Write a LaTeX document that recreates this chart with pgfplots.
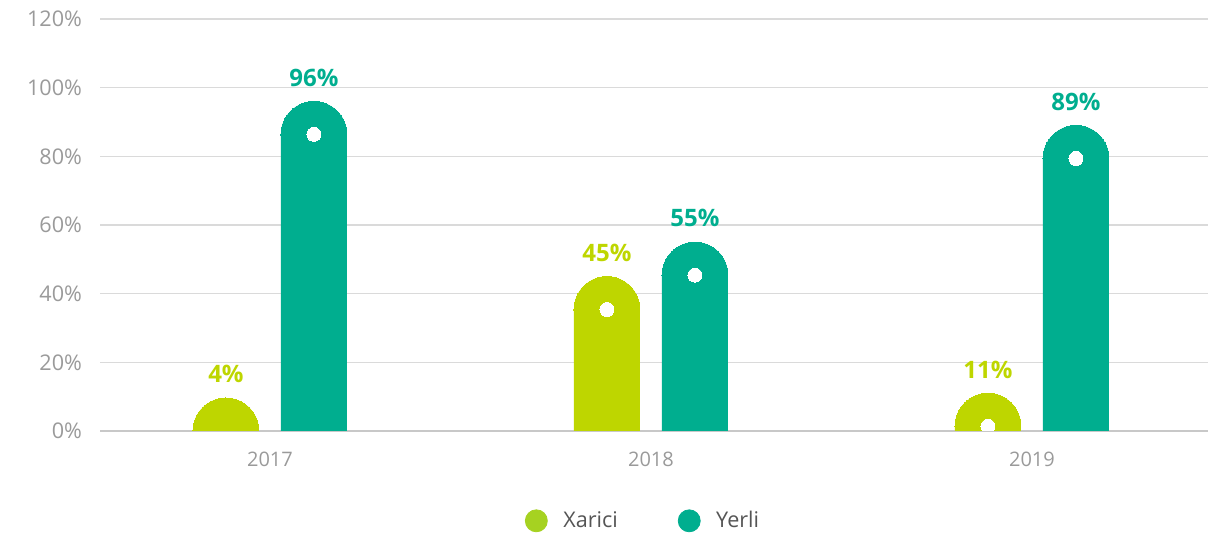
\documentclass[border=0pt]{standalone}
\usepackage{pgfplots}
\pgfplotsset{compat=1.18}
\usepackage{pgfplotstable}
\usepackage{fontspec}
\setmainfont{Open Sans}
\usetikzlibrary{calc}

\definecolor{xarici}{HTML}{BED600}
\definecolor{yerli}{HTML}{00AE8F}
\definecolor{gridc}{HTML}{DADADA}
\definecolor{basec}{HTML}{C8C8C8}
\definecolor{tickc}{HTML}{9A9A9A}
\definecolor{legc}{HTML}{555555}

% share of each group, in percent
\pgfplotstableread{
x v
0 4
1 45
2 11
}\xarici
\pgfplotstableread{
x v
0 96
1 55
2 89
}\yerli

% radius of the rounded bar top, in y units (16.5pt / (206pt/120))
\newcommand{\rr}{9.61}

\begin{document}
\begin{tikzpicture}
\begin{axis}[
  name=ax,
  scale only axis,
  width=554pt, height=206pt,
  xmin=-0.446, xmax=2.462,
  ymin=0, ymax=120,
  ytick={0,20,...,120},
  yticklabel={\pgfmathprintnumber{\tick}\%},
  xtick={0,1,2},
  xticklabels={2017,2018,2019},
  /pgf/number format/assume math mode=true,
  axis lines=left,
  y axis line style={draw=none},
  x axis line style={draw=basec, -, line width=0.7pt},
  major tick length=0pt,
  ymajorgrids,
  grid style={gridc, line width=0.6pt},
  tick label style={font=\fontsize{10}{12}\selectfont, text=tickc},
  yticklabel style={xshift=-5.5pt, font=\fontsize{10.8}{12}\selectfont},
  xticklabel style={yshift=-7pt},
  clip marker paths=true,
  legend columns=2,
  legend style={draw=none, at={(0.491,-0.218)}, anchor=center,
    font=\fontsize{10.8}{12}\selectfont, text=legc,
    /tikz/every even column/.append style={column sep=28pt}},
]
% Xarici
\addplot[ybar, bar width=33pt, bar shift=0pt, fill=xarici, draw=none, forget plot]
  table[x expr=\thisrow{x}-0.1155, y expr={max(\thisrow{v}-\rr,0)}] {\xarici};
\addplot[only marks, color=xarici, mark=*, mark size=16.5pt,
  mark options={fill=xarici, draw=xarici, line width=0pt},
  forget plot, point meta=explicit,
  nodes near coords={\pgfmathprintnumber{\pgfplotspointmeta}\%},
  every node near coord/.append style={anchor=south, inner sep=0pt, yshift=24pt,
    font=\fontsize{12}{14}\selectfont\bfseries, text=xarici}]
  table[x expr=\thisrow{x}-0.1155, y expr={max(\thisrow{v}-\rr,0)}, meta=v] {\xarici};
\addplot[only marks, color=white, mark=*, mark size=3.5pt,
  mark options={fill=white, draw=white, line width=0pt},
  forget plot, restrict y to domain=0.5:200]
  table[x expr=\thisrow{x}-0.1155, y expr={max(\thisrow{v}-\rr,0)}] {\xarici};
% Yerli
\addplot[ybar, bar width=33pt, bar shift=0pt, fill=yerli, draw=none, forget plot]
  table[x expr=\thisrow{x}+0.1155, y expr={max(\thisrow{v}-\rr,0)}] {\yerli};
\addplot[only marks, color=yerli, mark=*, mark size=16.5pt,
  mark options={fill=yerli, draw=yerli, line width=0pt},
  forget plot, point meta=explicit,
  nodes near coords={\pgfmathprintnumber{\pgfplotspointmeta}\%},
  every node near coord/.append style={anchor=south, inner sep=0pt, yshift=24pt,
    font=\fontsize{12}{14}\selectfont\bfseries, text=yerli}]
  table[x expr=\thisrow{x}+0.1155, y expr={max(\thisrow{v}-\rr,0)}, meta=v] {\yerli};
\addplot[only marks, color=white, mark=*, mark size=3.5pt,
  mark options={fill=white, draw=white, line width=0pt},
  forget plot, restrict y to domain=0.5:200]
  table[x expr=\thisrow{x}+0.1155, y expr={max(\thisrow{v}-\rr,0)}] {\yerli};

\addlegendimage{legend image code/.code={\fill[xarici!85!yerli!95!white] (0pt,0pt) circle (5.5pt); \path[draw=none] (-5.5pt,0pt) -- (11.5pt,0pt);}}
\addlegendentry{Xarici}
\addlegendimage{legend image code/.code={\fill[yerli] (0pt,0pt) circle (5.5pt); \path[draw=none] (-5.5pt,0pt) -- (11.5pt,0pt);}}
\addlegendentry{Yerli}
\end{axis}
\pgfresetboundingbox
\useasboundingbox ($(ax.south west)+(-50pt,-51.5pt)$) rectangle ($(ax.north east)+(5.5pt,9.5pt)$);
\end{tikzpicture}
\end{document}
